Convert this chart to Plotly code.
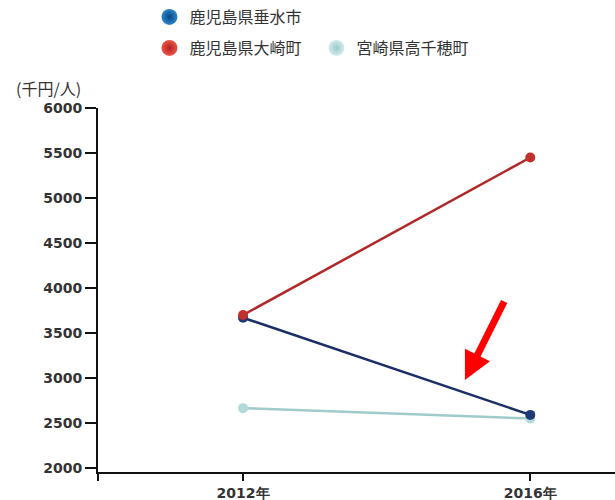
import plotly.graph_objects as go

years = [2012, 2016]
year_labels = ["2012年", "2016年"]
names = ["鹿児島県垂水市", "鹿児島県大崎町", "宮崎県高千穂町"]
tarumizu = [3670, 2590]
osaki = [3700, 5450]
takachiho = [2665, 2550]
y_ticks = [2000, 2500, 3000, 3500, 4000, 4500, 5000, 5500, 6000]

line_colors = ["#1b2f66", "#b02828", "#9fcbcb"]
marker_colors = ["#1d3a73", "#c0302c", "#b3dada"]
legend_centers = ["#2a86c8", "#ee5548", "#d2ecec"]
legend_edges = ["#0b4585", "#b0221e", "#9cc9c9"]
series = [tarumizu, osaki, takachiho]

fig = go.Figure()

# draw order: teal, blue, red (red on top at 2012)
for i in [2, 0, 1]:
    fig.add_trace(go.Scatter(
        x=years, y=series[i], mode="lines+markers", name=names[i],
        line=dict(color=line_colors[i], width=2.5),
        marker=dict(size=10, color=marker_colors[i],
                    line=dict(width=0)),
        showlegend=False, hoverinfo="skip"))

# legend-only entries
for i, lg in zip([0, 1, 2], ["legend", "legend2", "legend2"]):
    fig.add_trace(go.Scatter(
        x=[None], y=[None], mode="markers", name=names[i],
        marker=dict(size=17, color=legend_centers[i],
                    gradient=dict(type="radial", color=legend_edges[i]),
                    line=dict(width=0)),
        legend=lg, showlegend=True))

legend_font = dict(family="Noto Sans CJK JP", size=16, color="#333333")
fig.update_layout(
    width=615, height=500,
    margin=dict(l=98, r=0, t=108, b=28, autoexpand=False),
    paper_bgcolor="white", plot_bgcolor="white",
    showlegend=True,
    legend=dict(x=0.243, y=0.966, xref="container", yref="container",
                xanchor="left", yanchor="middle",
                orientation="h", font=legend_font, itemsizing="trace",
                bgcolor="rgba(0,0,0,0)"),
    legend2=dict(x=0.243, y=0.904, xref="container", yref="container",
                 xanchor="left", yanchor="middle",
                 orientation="h", font=legend_font, itemsizing="trace",
                 bgcolor="rgba(0,0,0,0)", entrywidth=122),
    xaxis=dict(range=[2009.98, 2017.18], tickvals=years, ticktext=year_labels,
               showgrid=False, zeroline=False, showline=True,
               linecolor="#111111", linewidth=2, ticks="outside", ticklen=7,
               tickwidth=2, tickcolor="#111111",
               tickfont=dict(family="DejaVu Sans", size=14, color="#333333", weight="bold")),
    yaxis=dict(range=[1955.6, 6000], tickvals=y_ticks,
               showgrid=False, zeroline=False, showline=True,
               linecolor="#111111", linewidth=2, ticks="outside", ticklen=11,
               tickwidth=2, tickcolor="#111111",
               tickfont=dict(family="DejaVu Sans", size=14, color="#333333", weight="bold")),
    annotations=[
        dict(text="(千円/人)", xref="paper", yref="paper", x=-0.095, y=1.055,
             xanchor="center", yanchor="middle", showarrow=False,
             font=dict(family="Noto Sans CJK JP", size=16, color="#333333")),
        dict(x=2015.09, y=2978, xref="x", yref="y", ax=40, ay=-80,
             text="", showarrow=True, arrowhead=2, arrowsize=0.8,
             arrowwidth=7, arrowcolor="#ff0000", standoff=0),
    ],
    shapes=[
        dict(type="line", xref="paper", yref="paper", x0=0, x1=0,
             y0=0, y1=-0.025, line=dict(color="#111111", width=2)),
    ],
)

fig.write_html("out.html")
